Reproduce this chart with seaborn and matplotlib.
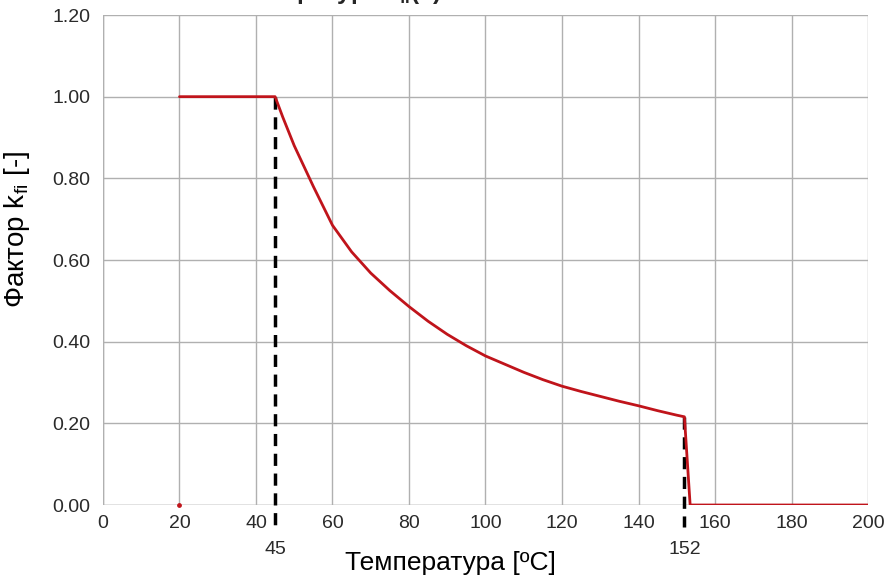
#!/usr/bin/env python3
"""Reduction factor k_fi versus temperature"""

import seaborn as sns
import pandas as pd
import matplotlib.pyplot as plt
from matplotlib.ticker import MultipleLocator

# DATA
temperature = [20, 45, 47, 50, 55, 60, 65, 70, 75, 80, 85, 90, 95, 100,
               105, 110, 115, 120, 125, 130, 135, 140, 145, 150, 152,
               153.5, 200]
kfi = [1.00, 1.00, 0.95, 0.88, 0.78, 0.685, 0.62, 0.568, 0.525, 0.486,
       0.45, 0.418, 0.39, 0.365, 0.345, 0.325, 0.307, 0.291, 0.278,
       0.266, 0.254, 0.243, 0.231, 0.220, 0.216, 0.0, 0.0]
start_mark_x = [20]
start_mark_y = [0.0]
marked_temps = [45, 152]
marked_kfi = [1.00, 0.216]

x_ticks = list(range(0, 201, 20))
y_ticks = [0.0, 0.2, 0.4, 0.6, 0.8, 1.0, 1.2]

title_text = "Зависимост от температура k$_\\mathregular{fi}$(T)"
x_label = "Температура [ºC]"
y_label = "Фактор k$_\\mathregular{fi}$ [-]"

# STYLE
sns.set_style("white")
plt.rcParams["font.family"] = ["Liberation Sans", "DejaVu Sans"]
plt.rcParams["mathtext.fontset"] = "custom"
plt.rcParams["mathtext.rm"] = "Liberation Sans"

grid_col = "#b0b0b0"
red = "#c0141b"
tick_col = "#2a2a2a"

fig = plt.figure(figsize=(8.87, 5.82), dpi=100)
ax = fig.add_axes([0.1161, 0.1323, 0.8625, 0.8419])

df = pd.DataFrame({"T": temperature, "kfi": kfi})
sns.lineplot(data=df, x="T", y="kfi", ax=ax, color=red, linewidth=2,
             sort=False, zorder=4)
ax.scatter(start_mark_x, start_mark_y, color=red, s=6, zorder=5, clip_on=False)

# dashed markers down to the extra labels
for t, k in zip(marked_temps, marked_kfi):
    ax.plot([t, t], [k, -0.055], color="black", linewidth=2.5,
            linestyle=(0, (3.5, 2.2)), clip_on=False, zorder=3)
    ax.text(t, -0.11, str(t), ha="center", va="center", fontsize=14,
            color=tick_col)

ax.set_xlim(0, 200)
ax.set_ylim(0, 1.2)
ax.set_xticks(x_ticks)
ax.set_yticks(y_ticks)
ax.set_yticklabels([f"{v:.2f}" for v in y_ticks])
ax.xaxis.set_minor_locator(MultipleLocator(5))

ax.grid(True, which="major", color=grid_col, linewidth=1)
for s in ax.spines.values():
    s.set_visible(False)
ax.axhline(0, color=grid_col, linewidth=1, zorder=2)
ax.axvline(0, color=grid_col, linewidth=1, zorder=2)

ax.tick_params(axis="x", which="both", direction="inout", length=6,
               color=grid_col, labelsize=14, labelcolor=tick_col, pad=4)
ax.tick_params(axis="y", which="major", direction="out", length=5,
               color=grid_col, labelsize=14, labelcolor=tick_col, pad=4)
ax.tick_params(axis="x", which="minor", length=5)

ax.set_xlabel(x_label, fontsize=19, color="black")
ax.set_ylabel(y_label, fontsize=20, color="black")
ax.xaxis.set_label_coords(0.454, -0.094)
ax.yaxis.set_label_coords(-0.093, 0.563)

# title of the source figure, cut off at the top edge
fig.text(0.498, 1.0 + 1.5 / 582, title_text, fontsize=17.5, fontweight="bold",
         ha="right", va="baseline")

fig.savefig("out.png", dpi=100)
